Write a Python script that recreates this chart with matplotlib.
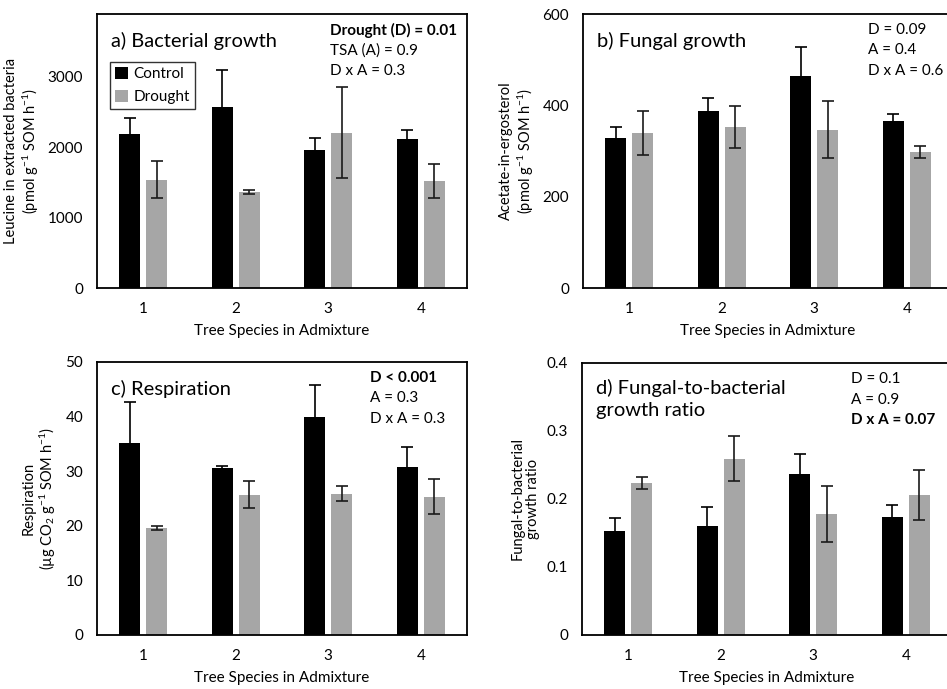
import numpy as np
import matplotlib
matplotlib.use('Agg')
import matplotlib.pyplot as plt

plt.rcParams['font.family'] = ['Lato', 'DejaVu Sans']
plt.rcParams['mathtext.default'] = 'regular'

species = ['1', '2', '3', '4']

# a) bacterial growth (pmol g-1 SOM h-1)
bact_ctrl = [2190, 2570, 1953, 2120]
bact_ctrl_se = [230, 530, 181, 128]
bact_drou = [1536, 1366, 2205, 1522]
bact_drou_se = [261, 28, 645, 242]

# b) fungal growth
fung_ctrl = [329, 388, 464, 365]
fung_ctrl_se = [23, 28, 63, 15]
fung_drou = [339, 352, 347, 297]
fung_drou_se = [48, 46, 62, 13]

# c) respiration
resp_ctrl = [35.2, 30.5, 40.0, 30.7]
resp_ctrl_se = [7.4, 0.5, 5.8, 3.8]
resp_drou = [19.6, 25.7, 25.9, 25.3]
resp_drou_se = [0.45, 2.5, 1.3, 3.2]

# d) fungal-to-bacterial ratio
ratio_ctrl = [0.153, 0.160, 0.237, 0.174]
ratio_ctrl_se = [0.019, 0.028, 0.029, 0.017]
ratio_drou = [0.224, 0.259, 0.178, 0.206]
ratio_drou_se = [0.009, 0.033, 0.041, 0.037]

panels = [
    dict(ctrl=bact_ctrl, ctrl_se=bact_ctrl_se, drou=bact_drou, drou_se=bact_drou_se,
         ylim=3890, ticks=[0, 1000, 2000, 3000],
         ylabel='Leucine in extracted bacteria\n(pmol g$^{-1}$ SOM h$^{-1}$)',
         title='a) Bacterial growth', stats=['Drought (D) = 0.01', 'TSA (A) = 0.9', 'D x A = 0.3'],
         bold=[0], rect=[97, 14, 467, 288], sx=330, tick_fmt='{:.0f}'),
    dict(ctrl=fung_ctrl, ctrl_se=fung_ctrl_se, drou=fung_drou, drou_se=fung_drou_se,
         ylim=600, ticks=[0, 200, 400, 600],
         ylabel='Acetate-in-ergosterol\n(pmol g$^{-1}$ SOM h$^{-1}$)',
         title='b) Fungal growth', stats=['D = 0.09', 'A = 0.4', 'D x A = 0.6'],
         bold=[], rect=[583, 14, 953, 288], sx=868, tick_fmt='{:.0f}'),
    dict(ctrl=resp_ctrl, ctrl_se=resp_ctrl_se, drou=resp_drou, drou_se=resp_drou_se,
         ylim=50, ticks=[0, 10, 20, 30, 40, 50],
         ylabel='Respiration\n(µg CO$_2$ g$^{-1}$ SOM h$^{-1}$)',
         title='c) Respiration', stats=['D < 0.001', 'A = 0.3', 'D x A = 0.3'],
         bold=[0], rect=[97, 362, 467, 635], sx=370, tick_fmt='{:.0f}'),
    dict(ctrl=ratio_ctrl, ctrl_se=ratio_ctrl_se, drou=ratio_drou, drou_se=ratio_drou_se,
         ylim=0.4, ticks=[0, 0.1, 0.2, 0.3, 0.4],
         ylabel='Fungal-to-bacterial\ngrowth ratio',
         title='d) Fungal-to-bacterial\ngrowth ratio', stats=['D = 0.1', 'A = 0.9', 'D x A = 0.07'],
         bold=[2], rect=[582, 363, 952, 635], sx=851, tick_fmt='{:g}'),
]

W, H = 947, 689
fig = plt.figure(figsize=(W / 100, H / 100), dpi=100)

x = np.arange(len(species))
bw = 0.23
off = 0.145
black = '#000000'
grey = '#a6a6a6'

for p in panels:
    l, t, r, b = p['rect']
    ax = fig.add_axes([l / W, 1 - b / H, (r - l) / W, (b - t) / H])
    ax.bar(x - off, p['ctrl'], bw, color=black, label='Control', zorder=2)
    ax.bar(x + off, p['drou'], bw, color=grey, label='Drought', zorder=2)
    ax.errorbar(x - off, p['ctrl'], yerr=p['ctrl_se'], fmt='none', ecolor='black',
                elinewidth=1.2, capsize=4, capthick=1.2, zorder=3)
    ax.errorbar(x + off, p['drou'], yerr=p['drou_se'], fmt='none', ecolor='#1a1a1a',
                elinewidth=1.2, capsize=4, capthick=1.2, zorder=3)
    ax.set_xlim(-0.5, 3.5)
    ax.set_ylim(0, p['ylim'])
    ax.set_xticks(x)
    ax.set_xticklabels(species)
    ax.set_yticks(p['ticks'])
    ax.set_yticklabels([p['tick_fmt'].format(v) for v in p['ticks']])
    ax.tick_params(length=0, labelsize=11, pad=10)
    for s in ax.spines.values():
        s.set_linewidth(1.3)
    ax.set_xlabel('Tree Species in Admixture', fontsize=11, labelpad=6)
    ax.set_ylabel(p['ylabel'], fontsize=10.5, labelpad=5, linespacing=1.15)

    # panel title
    ty = t + 27 if '\n' not in p['title'] else t + 36
    fig.text((l + 14) / W, 1 - ty / H, p['title'], fontsize=14.5, va='center', ha='left',
             linespacing=1.3)
    for i, s in enumerate(p['stats']):
        fig.text(p['sx'] / W, 1 - (t + 16 + i * 20.5) / H, s, fontsize=11, va='center',
                 ha='left', fontweight='bold' if i in p['bold'] else 'normal')

    if p['title'].startswith('a)'):
        leg = ax.legend(loc='upper left', bbox_to_anchor=(0.035, 0.825), fontsize=11,
                        frameon=True, fancybox=False, edgecolor='black',
                        handlelength=0.8, handleheight=0.8, handletextpad=0.4,
                        borderpad=0.35, labelspacing=0.55, borderaxespad=0)
        leg.get_frame().set_linewidth(1.0)

fig.savefig('out.png', dpi=100)
